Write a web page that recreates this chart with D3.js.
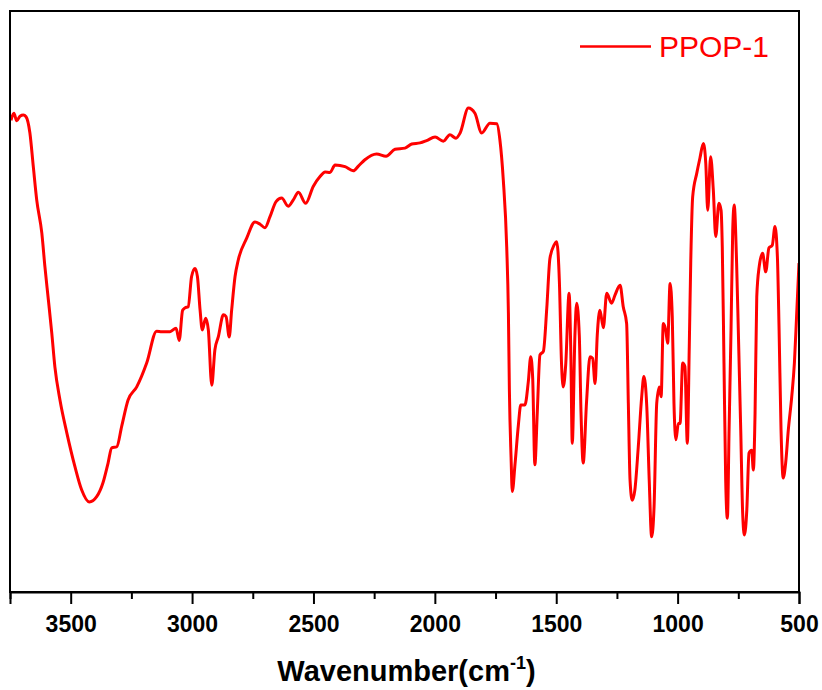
<!DOCTYPE html>
<html><head><meta charset="utf-8">
<script src="https://cdn.jsdelivr.net/npm/d3@7"></script>
<style>body{margin:0;background:#fff}svg{display:block}</style>
</head><body><svg id="c" width="822" height="690"></svg>
<script>
const wavenumber = [3746,3734,3722,3709,3695,3684,3668,3654,3640,3619,3606,3592,3578,3565,3544,3516,3482,3455,3423,3393,3367,3346,3331,3310,3290,3264,3228,3187,3146,3125,3091,3066,3053,3039,3029,3016,3002,2988,2978,2967,2958,2944,2933,2919,2906,2892,2871,2860,2847,2837,2823,2810,2775,2741,2720,2700,2679,2654,2631,2604,2583,2562,2532,2501,2473,2452,2432,2411,2370,2336,2315,2288,2240,2201,2164,2123,2095,2061,2034,1999,1965,1938,1913,1896,1862,1835,1807,1773,1745,1732,1718,1704,1697,1693,1686,1681,1670,1656,1646,1629,1615,1605,1597,1588,1578,1567,1553,1539,1526,1509,1498,1487,1478,1471,1461,1447,1440,1434,1423,1416,1405,1398,1389,1375,1361,1350,1340,1331,1320,1306,1292,1272,1258,1237,1224,1210,1203,1196,1187,1176,1162,1148,1139,1127,1117,1107,1097,1086,1075,1068,1059,1049,1041,1031,1022,1015,1007,997,990,979,970,960,952,946,938,921,908,894,884,876,864,853,843,830,821,816,809,802,795,788,780,773,767,757,750,740,732,725,715,706,695,688,681,674,664,650,637,624,610,599,589,582,574,565,555,544,530,519,510,500];
const transmittance = [81.2,82.4,81.1,81.9,82.1,81.8,79.0,73.2,67.5,61.8,55.9,50.3,44.6,38.7,33.0,27.4,21.5,17.6,15.5,16.4,18.8,22.2,24.8,25.0,28.5,33.0,35.3,39.4,44.9,44.8,44.8,45.4,43.3,48.5,48.9,49.1,54.3,55.7,54.3,48.5,45.1,47.1,45.1,35.6,41.7,43.9,47.7,47.4,43.9,48.5,54.3,57.1,60.9,63.7,63.3,62.7,64.6,67.2,67.8,66.4,67.5,68.8,66.9,69.8,71.5,72.3,72.2,73.5,73.2,72.5,73.3,74.4,75.4,75.0,76.2,76.4,77.1,77.3,77.7,78.3,77.6,78.7,78.1,79.0,83.3,82.4,79.0,80.7,80.6,77.8,70.9,59.4,48.0,34.8,23.1,17.3,21.9,28.7,32.2,32.2,36.2,40.5,36.8,21.9,31.0,40.8,41.4,48.8,57.4,59.7,60.3,53.4,39.1,35.3,39.1,51.4,41.4,25.6,44.2,49.7,44.2,31.0,22.2,32.8,40.5,40.2,35.9,44.2,48.5,45.5,51.4,49.7,51.1,52.8,49.1,46.2,32.5,19.3,15.8,17.6,25.0,33.6,37.1,31.9,19.3,9.5,14.7,32.5,35.3,33.6,46.2,45.1,42.8,53.1,47.4,32.5,26.2,29.0,29.0,39.4,38.8,25.6,42.2,56.6,68.0,72.1,74.7,77.2,73.8,65.7,74.9,69.2,61.2,66.9,65.7,59.4,39.4,19.3,12.7,27.9,45.1,62.3,66.6,56.6,45.1,27.9,13.5,9.8,14.1,23.9,24.4,21.0,30.8,50.8,56.0,58.3,55.1,59.2,59.7,62.9,57.7,45.1,27.9,19.6,22.2,27.9,33.6,39.4,47.4,56.6];
const seriesName = "PPOP-1";
const majorTicks = [3500,3000,2500,2000,1500,1000,500];
const minorTicks = [3750,3250,2750,2250,1750,1250,750];
const xTitle = "Wavenumber(cm";
const xTitleSup = "-1";

const svg = d3.select("#c");
const L = 10, R = 799, T = 11, B = 592;
const x = d3.scaleLinear().domain([3750, 500]).range([L, R]);
const y = d3.scaleLinear().domain([0, 100]).range([B, T]);
const font = "'Liberation Sans', Arial, Helvetica, sans-serif";

const data = wavenumber.map((w, i) => ({w, t: transmittance[i]}));

svg.append("defs").append("clipPath").attr("id", "clip")
  .append("rect").attr("x", L).attr("y", T).attr("width", R - L).attr("height", B - T);

svg.append("path").datum(data)
  .attr("clip-path", "url(#clip)")
  .attr("fill", "none").attr("stroke", "#ff0000").attr("stroke-width", 3)
  .attr("stroke-linejoin", "round")
  .attr("d", d3.line().x(d => x(d.w)).y(d => y(d.t)).curve(d3.curveMonotoneX));

// frame
svg.append("rect").attr("x", L).attr("y", T).attr("width", R - L).attr("height", B - T)
  .attr("fill", "none").attr("stroke", "#000").attr("stroke-width", 2);

// minor ticks
const gMinor = svg.append("g").attr("transform", `translate(0,${B})`)
  .call(d3.axisBottom(x).tickValues(minorTicks).tickSize(7).tickFormat(""));
gMinor.select(".domain").remove();
gMinor.selectAll("line").attr("stroke-width", 2);

// major ticks
const gMajor = svg.append("g").attr("transform", `translate(0,${B})`)
  .call(d3.axisBottom(x).tickValues(majorTicks).tickSize(12).tickPadding(12).tickFormat(d3.format("d")));
gMajor.select(".domain").attr("stroke-width", 2);
gMajor.selectAll("line").attr("stroke-width", 2);
gMajor.selectAll("text").attr("font-family", font).attr("font-size", 23).attr("font-weight", "bold").attr("fill", "#000");

// axis title
const title = svg.append("text").attr("x", (L + R) / 2 + 2).attr("y", 681)
  .attr("text-anchor", "middle").attr("font-family", font).attr("font-size", 29).attr("font-weight", "bold");
title.append("tspan").text(xTitle);
title.append("tspan").attr("font-size", 18).attr("dy", -12).text(xTitleSup);
title.append("tspan").attr("dy", 12).text(")");

// legend
svg.append("line").attr("x1", 580).attr("x2", 651).attr("y1", 46.5).attr("y2", 46.5)
  .attr("stroke", "#ff0000").attr("stroke-width", 2.6);
svg.append("text").attr("x", 659).attr("y", 57).attr("font-family", font).attr("font-size", 30)
  .attr("fill", "#ff0000").text(seriesName);
</script></body></html>
